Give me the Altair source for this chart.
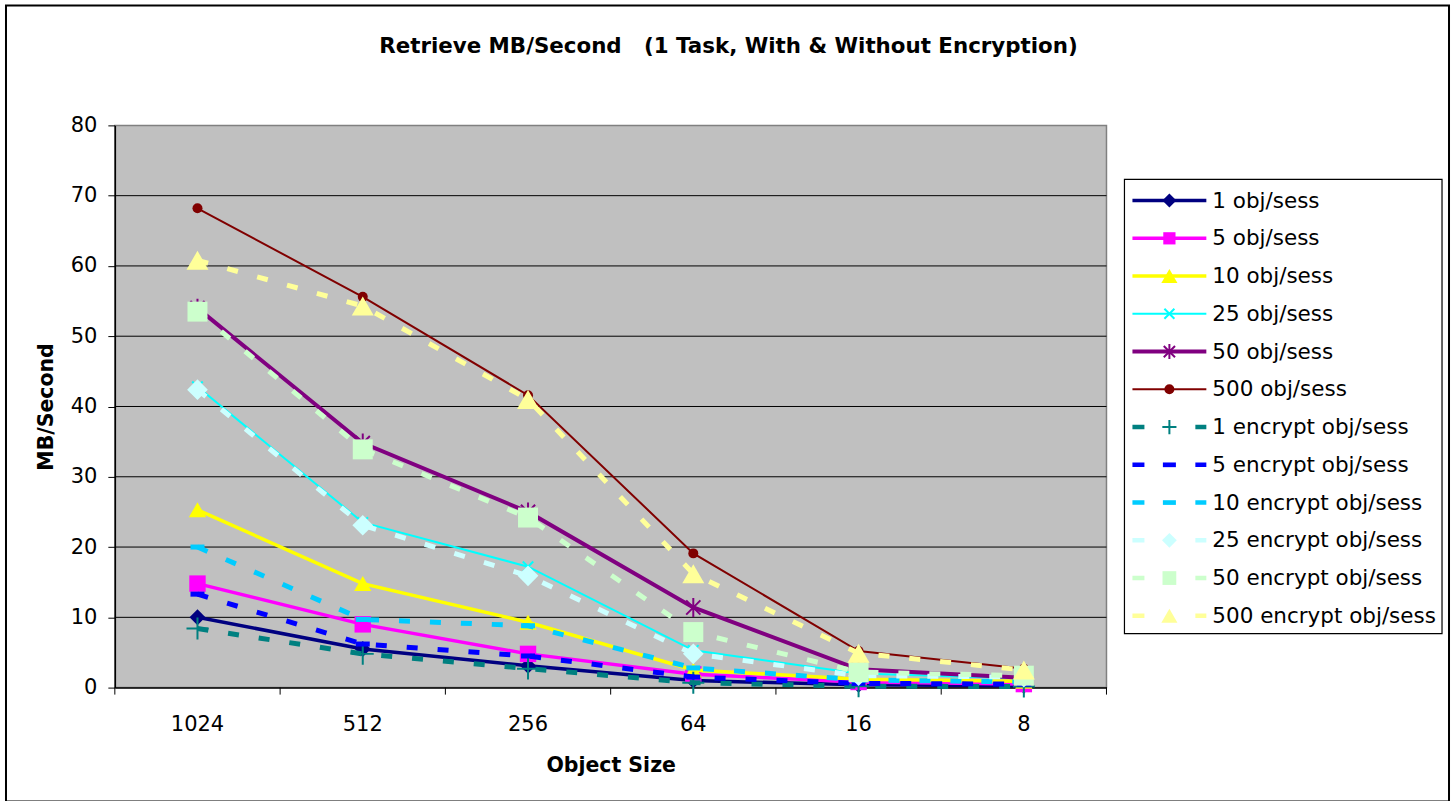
import altair as alt
import pandas as pd

# Object sizes on the category axis, largest first
sizes = ["1024", "512", "256", "64", "16", "8"]

series_names = [
    "1 obj/sess", "5 obj/sess", "10 obj/sess", "25 obj/sess", "50 obj/sess",
    "500 obj/sess", "1 encrypt obj/sess", "5 encrypt obj/sess",
    "10 encrypt obj/sess", "25 encrypt obj/sess", "50 encrypt obj/sess",
    "500 encrypt obj/sess",
]

# Retrieve throughput (MB/second) for each object size
obj_1 = [10.0, 5.5, 3.1, 1.0, 0.4, 0.25]
obj_5 = [14.8, 9.0, 4.8, 1.9, 0.8, 0.5]
obj_10 = [25.3, 14.8, 9.3, 2.5, 1.2, 0.9]
obj_25 = [42.8, 23.5, 17.2, 5.3, 2.0, 1.3]
obj_50 = [54.0, 34.8, 25.0, 11.4, 2.6, 1.4]
obj_500 = [68.2, 55.6, 41.6, 19.1, 5.2, 2.7]
enc_1 = [8.4, 4.8, 2.7, 0.7, 0.2, 0.15]
enc_5 = [13.3, 6.2, 4.5, 1.5, 0.6, 0.5]
enc_10 = [20.0, 9.7, 8.8, 2.8, 1.1, 0.8]
enc_25 = [42.4, 23.1, 15.9, 4.8, 1.7, 1.5]
enc_50 = [53.5, 33.9, 24.2, 7.9, 2.2, 1.7]
enc_500 = [60.8, 54.3, 41.0, 16.2, 4.9, 2.5]

series_values = [obj_1, obj_5, obj_10, obj_25, obj_50, obj_500,
                 enc_1, enc_5, enc_10, enc_25, enc_50, enc_500]

y_ticks = list(range(0, 81, 10))

df = pd.DataFrame(
    [{"series": n, "size": s, "mbps": v}
     for n, vals in zip(series_names, series_values)
     for s, v in zip(sizes, vals)]
)
legend_df = pd.DataFrame({"series": series_names, "idx": list(range(len(series_names)))})
grid_df = pd.DataFrame({"mbps": y_ticks[1:-1]})
edge_df = pd.DataFrame({"size": sizes})

FONT = "DejaVu Sans"
PLOT_W, PLOT_H = 993, 563
LEG_W = 318
LEG_X0 = PLOT_W + 18  # legend panel offset from the plot's left edge

# marker outlines drawn as stroked paths in a [-1, 1] box
PLUS = "M-1,0L1,0M0,-1L0,1"
XMARK = "M-1,-1L1,1M-1,1L1,-1"
STAR = "M-0.75,-0.75L0.75,0.75M-0.75,0.75L0.75,-0.75M0,-1L0,1"
DASH = "M-1,-0.36L1,-0.36L1,0.36L-1,0.36Z"

DASHED = [11, 20]
styles = {
    "1 obj/sess": dict(color="#000080", width=3.5, shape="diamond", size=256, leg=196, filled=True),
    "5 obj/sess": dict(color="#FF00FF", width=3.5, shape="square", size=270, leg=150, filled=True),
    "10 obj/sess": dict(color="#FFFF00", width=3.5, shape="triangle-up", size=300, leg=260, filled=True),
    "25 obj/sess": dict(color="#00FFFF", width=2, shape=XMARK, size=110, leg=100, filled=False),
    "50 obj/sess": dict(color="#800080", width=4, shape=STAR, size=360, leg=225, filled=False),
    "500 obj/sess": dict(color="#800000", width=2, shape="circle", size=100, leg=100, filled=True),
    "1 encrypt obj/sess": dict(color="#008080", width=5, dash=True, shape=PLUS, size=484, leg=200, filled=False),
    "5 encrypt obj/sess": dict(color="#0000FF", width=5, dash=True, shape=DASH, size=196, leg=170, filled=True),
    "10 encrypt obj/sess": dict(color="#00CCFF", width=5, dash=True, shape=DASH, size=196, leg=170, filled=True),
    "25 encrypt obj/sess": dict(color="#CCFFFF", width=5, dash=True, shape="diamond", size=430, leg=220, filled=True),
    "50 encrypt obj/sess": dict(color="#CCFFCC", width=5, dash=True, shape="square", size=400, leg=190, filled=True),
    "500 encrypt obj/sess": dict(color="#FFFF99", width=5, dash=True, shape="triangle-up", size=484, leg=260, filled=True),
}

x_scale = alt.Scale(type="band", paddingInner=0, paddingOuter=0)
y_scale = alt.Scale(domain=[0, 80], nice=False, zero=True)

x_axis = alt.Axis(
    title="Object Size", ticks=False, tickSize=0, labelPadding=26,
    labelFont=FONT, labelFontSize=21, labelColor="#000000", labelAngle=0,
    domainColor="#000000", domainWidth=1.5,
    titleFont=FONT, titleFontSize=20.5, titleFontWeight="bold",
    titleColor="#000000", titlePadding=21,
)
y_axis = alt.Axis(
    title="MB/Second", values=y_ticks, grid=False, tickSize=7,
    tickColor="#000000", tickWidth=1, labelPadding=11,
    labelFont=FONT, labelFontSize=21, labelColor="#000000",
    domainColor="#000000", domainWidth=1.5,
    titleFont=FONT, titleFontSize=20.5, titleFontWeight="bold",
    titleColor="#000000", titlePadding=14,
)

X = alt.X("size:N", sort=sizes, scale=x_scale, axis=x_axis, bandPosition=0.5)
Y = alt.Y("mbps:Q", scale=y_scale, axis=y_axis)

# horizontal gridlines between the axis and the top border
grid = alt.Chart(grid_df).mark_rule(color="#000000", strokeWidth=1).encode(y=Y)

# category tick marks sit on the boundaries between object sizes
ticks_left = alt.Chart(edge_df).mark_rule(color="#000000", strokeWidth=1).encode(
    x=alt.X("size:N", sort=sizes, scale=x_scale, axis=x_axis, bandPosition=0),
    y=alt.value(PLOT_H), y2=alt.value(PLOT_H + 7),
)
ticks_right = alt.Chart(edge_df.tail(1)).mark_rule(color="#000000", strokeWidth=1).encode(
    x=alt.X("size:N", sort=sizes, scale=x_scale, axis=x_axis, bandPosition=1),
    y=alt.value(PLOT_H), y2=alt.value(PLOT_H + 7),
)

layers = [grid, ticks_left, ticks_right]
for name in series_names:
    st = styles[name]
    base = alt.Chart(df).transform_filter(alt.datum.series == name)
    line_kw = dict(color=st["color"], strokeWidth=st["width"])
    if st.get("dash"):
        line_kw["strokeDash"] = DASHED
    layers.append(base.mark_line(**line_kw).encode(x=X, y=Y))
    pt_kw = dict(shape=st["shape"], size=st["size"], opacity=1, filled=st["filled"])
    if st["filled"]:
        pt_kw["fill"] = st["color"]
        pt_kw["strokeWidth"] = 0
    else:
        pt_kw["stroke"] = st["color"]
        pt_kw["strokeWidth"] = 2
    layers.append(base.mark_point(**pt_kw).encode(x=X, y=Y))

main = alt.layer(*layers).properties(
    width=PLOT_W, height=PLOT_H,
    view=alt.ViewConfig(fill="#C0C0C0", stroke="#808080", strokeWidth=1.5),
    title=alt.TitleParams(
        "Retrieve MB/Second\u00a0\u00a0\u00a0(1 Task, With & Without Encryption)",
        font=FONT, fontSize=21.4, fontWeight="bold", color="#000000",
        anchor="middle", frame="group", dx=118, offset=57,
    ),
)

# ---- legend panel: one row per series, line sample + marker + label ----
ROW0, ROW_STEP = 75.3, 37.8
leg_y_scale = alt.Scale(
    domain=[-ROW0 / ROW_STEP, (PLOT_H - ROW0) / ROW_STEP],
    reverse=True, nice=False, zero=False,
)
leg_x_scale = alt.Scale(domain=[0, LEG_W], nice=False, zero=False)
box_top = (54 - ROW0) / ROW_STEP
box_bottom = (509 - ROW0) / ROW_STEP

box = alt.Chart(alt.Data(values=[{}])).mark_rect(
    fill="#FFFFFF", stroke="#000000", strokeWidth=1.2
).encode(
    x=alt.X(datum=0, scale=leg_x_scale, axis=None),
    x2=alt.X2(datum=LEG_W),
    y=alt.Y(datum=box_top, scale=leg_y_scale, axis=None),
    y2=alt.Y2(datum=box_bottom),
)

# outer border around the whole figure (pixel offsets from the legend panel)
frame = alt.Chart(alt.Data(values=[{}])).mark_rect(
    fill="transparent", stroke="#000000", strokeWidth=2
).encode(
    x=alt.value(-LEG_X0 - 109), x2=alt.value(1336 - LEG_X0),
    y=alt.value(-120), y2=alt.value(677),
)

leg_layers = [box]
for name in series_names:
    st = styles[name]
    base = alt.Chart(legend_df).transform_filter(alt.datum.series == name)
    rule_kw = dict(color=st["color"], strokeWidth=min(st["width"], 4.5))
    if st.get("dash"):
        rule_kw["strokeDash"] = [12, 51]
    leg_layers.append(base.mark_rule(**rule_kw).encode(
        x=alt.X(datum=8, scale=leg_x_scale, axis=None),
        x2=alt.X2(datum=82),
        y=alt.Y("idx:Q", scale=leg_y_scale, axis=None),
    ))
    pt_kw = dict(shape=st["shape"], size=st["leg"], opacity=1, filled=st["filled"])
    if st["filled"]:
        pt_kw["fill"] = st["color"]
        pt_kw["strokeWidth"] = 0
    else:
        pt_kw["stroke"] = st["color"]
        pt_kw["strokeWidth"] = 2
    leg_layers.append(base.mark_point(**pt_kw).encode(
        x=alt.X(datum=45, scale=leg_x_scale, axis=None),
        y=alt.Y("idx:Q", scale=leg_y_scale, axis=None),
    ))

labels = alt.Chart(legend_df).mark_text(
    align="left", baseline="middle", font=FONT, fontSize=21.5, color="#000000", dy=1
).encode(
    x=alt.X(datum=88, scale=leg_x_scale, axis=None),
    y=alt.Y("idx:Q", scale=leg_y_scale, axis=None),
    text="series:N",
)
leg_layers.append(labels)
leg_layers.append(frame)

legend = alt.layer(*leg_layers).properties(
    width=LEG_W, height=PLOT_H,
    view=alt.ViewConfig(fill="transparent", stroke="transparent"),
)

chart = alt.hconcat(main, legend, spacing=18, bounds="flush").properties(
    padding={"left": 4, "top": 3, "right": 5, "bottom": 0},
    background="#FFFFFF",
).configure(font=FONT)

chart.save("out.html", embed_options={"renderer": "svg", "actions": False})
